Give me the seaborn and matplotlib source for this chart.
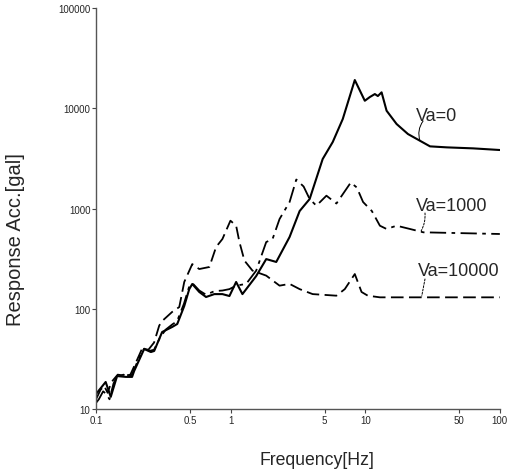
import numpy as np
import pandas as pd
import matplotlib
matplotlib.use("Agg")
import matplotlib.pyplot as plt
import seaborn as sns

# Va=0 (solid)
freq_va0 = [0.1, 0.118, 0.1287, 0.1434, 0.1665, 0.1854, 0.192, 0.228, 0.2556, 0.2705,
            0.31, 0.368, 0.4015, 0.4525, 0.493, 0.519, 0.585, 0.657, 0.757, 0.869,
            0.98, 1.099, 1.224, 1.549, 1.839, 2.183, 2.742, 3.257, 3.865, 4.83,
            5.736, 6.81, 8.366, 9.93, 10.82, 11.79, 12.41, 13.23, 14.41, 17.1,
            20.77, 25.5, 30.3, 40.4, 63.4, 100]
acc_va0 = [14.1, 18.6, 13.2, 21.3, 20.9, 20.9, 23.9, 39.7, 37.0, 37.9,
           58.6, 65.8, 70.5, 106.5, 157, 176.6, 147, 131, 140, 140,
           134, 185, 140, 212, 313, 293, 520, 944, 1244, 3118,
           4606, 7816, 19140, 11890, 12950, 13870, 13250, 14430, 9460, 6970,
           5535, 4745, 4170, 4075, 3982, 3835]

# Va=1000 (dash-dot)
freq_va1000 = [0.1, 0.105, 0.113, 0.12, 0.126, 0.135, 0.143, 0.16, 0.17, 0.185,
               0.195, 0.21, 0.228, 0.25, 0.27, 0.3, 0.33, 0.37, 0.4, 0.45,
               0.49, 0.52, 0.585, 0.657, 0.76, 0.87, 0.98, 1.099, 1.305, 1.549,
               1.839, 2.049, 2.31, 2.742, 3.076, 3.487, 3.865, 4.336, 5.15, 6.11,
               7.81, 8.66, 9.64, 11.2, 12.85, 14.41, 17.1, 21.5, 27.0, 100]
acc_va1000 = [11.5, 12.5, 15, 14, 12.5, 18, 21, 22, 20.5, 22,
              26, 33, 40, 38, 39, 52, 62, 70, 75, 112,
              163, 180, 152, 138, 150, 152, 157, 170, 177, 240,
              463, 496, 786, 1161, 1946, 1657, 1244, 1067, 1343, 1122,
              1817, 1620, 1161, 944, 674, 625, 674, 625, 579, 557]

# Va=10000 (dashed)
freq_va10000 = [0.1, 0.108, 0.115, 0.122, 0.13, 0.145, 0.165, 0.18, 0.2, 0.22,
                0.245, 0.27, 0.295, 0.312, 0.368, 0.4155, 0.4525, 0.519, 0.585, 0.695,
                0.78, 0.869, 0.997, 1.099, 1.163, 1.267, 1.454, 1.839, 2.31, 2.742,
                3.257, 4.07, 6.11, 7.05, 8.366, 9.39, 10.45, 12.85, 100]
acc_va10000 = [12.5, 15.5, 17, 14.5, 18.5, 22, 21.5, 22, 30, 40,
               39, 46, 68, 76, 93, 104, 185, 279, 249, 261,
               413, 496, 756, 674, 463, 302, 240, 214, 170, 177,
               157, 140, 135, 157, 222, 147, 135, 130, 130]

x_ticks = [0.1, 0.5, 1, 5, 10, 50, 100]
x_tick_labels = ["0.1", "0.5", "1", "5", "10", "50", "100"]
y_ticks = [10, 100, 1000, 10000, 100000]
y_tick_labels = ["10", "100", "1000", "10000", "100000"]

sns.set_style("ticks")
plt.rcParams['font.family'] = ['Liberation Sans', 'DejaVu Sans']

fig = plt.figure(figsize=(5.09, 4.77), dpi=100)
ax = fig.add_axes([0.1886, 0.1405, 0.7934, 0.8405])

sns.lineplot(x=freq_va0, y=acc_va0, ax=ax, color="black", lw=1.5,
             estimator=None, sort=False)
sns.lineplot(x=freq_va1000, y=acc_va1000, ax=ax, color="black", lw=1.3,
             estimator=None, sort=False)
ax.lines[-1].set_dashes([9, 3, 2, 3])
sns.lineplot(x=freq_va10000, y=acc_va10000, ax=ax, color="black", lw=1.3,
             estimator=None, sort=False)
ax.lines[-1].set_dashes([7, 3])

ax.set_xscale("log")
ax.set_yscale("log")
ax.set_xlim(0.1, 100)
ax.set_ylim(10, 100000)
ax.set_xticks(x_ticks)
ax.set_xticklabels(x_tick_labels)
ax.set_yticks(y_ticks)
ax.set_yticklabels(y_tick_labels)
ax.minorticks_off()
ax.tick_params(labelsize=7, length=3, width=0.8, color="#444444", pad=1)
for s in ["left", "bottom"]:
    ax.spines[s].set_color("#555555")
    ax.spines[s].set_linewidth(1)
sns.despine(ax=ax)

ax.set_xlabel("Frequency[Hz]", fontsize=12.7)
ax.xaxis.set_label_coords(0.547, -0.105)
ax.set_ylabel("Response Acc.[gal]", fontsize=14.5)
ax.yaxis.set_label_coords(-0.176, 0.424)

# series labels
ax.text(23.8, 8400, "Va=0", fontsize=13, va="center", ha="left")
ax.text(24, 1084, "Va=1000", fontsize=13, va="center", ha="left")
ax.text(24.6, 243, "Va=10000", fontsize=13, va="center", ha="left")

# leader lines
ax.annotate("", xy=(25.5, 4745), xytext=(26.9, 7460),
            arrowprops=dict(arrowstyle="-", lw=0.7, color="black",
                            shrinkA=0, shrinkB=0,
                            connectionstyle="arc3,rad=0.25"))
ax.annotate("", xy=(26, 596), xytext=(27.8, 902),
            arrowprops=dict(arrowstyle="-", lw=0.7, color="black",
                            linestyle=(0, (2, 1.5)), shrinkA=0, shrinkB=0,
                            connectionstyle="arc3,rad=-0.15"))
ax.annotate("", xy=(26.3, 134), xytext=(27.8, 198),
            arrowprops=dict(arrowstyle="-", lw=0.7, color="black",
                            linestyle=(0, (2, 1.5)), shrinkA=0, shrinkB=0))

plt.savefig("out.png", dpi=100)
